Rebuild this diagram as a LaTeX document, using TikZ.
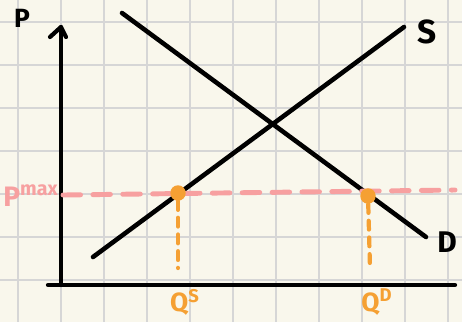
\documentclass[tikz,border=0pt]{standalone}
\usepackage{fontspec}
\setmainfont{Fira Sans}
\usetikzlibrary{calc}

\definecolor{paper}{HTML}{F9F7EC}
\definecolor{gridgrey}{HTML}{D6D6D6}
\definecolor{pmaxpink}{HTML}{F7A0A0}
\definecolor{qorange}{HTML}{F5A033}

\tikzset{
  curve/.style={line width=2.6pt, line cap=round, black},
  axis/.style={line width=2.4pt, line cap=round, black},
  lbl/.style={font=\bfseries\fontsize{15}{15}\selectfont, inner sep=0pt},
  qlbl/.style={lbl, text=qorange},
  qdot/.style={circle, fill=qorange, minimum size=8.8pt, inner sep=0pt},
  qdrop/.style={line width=2.4pt, qorange, dash pattern=on 5pt off 4.5pt, line cap=round},
}

\begin{document}
\begin{tikzpicture}[x=0.02cm, y=-0.02cm, font=\bfseries]

% --- Paper and grid ---
\fill[paper] (0,0) rectangle (462,322);
\useasboundingbox (0,0) rectangle (462,322);
\foreach \gx in {18,61,...,462}
  \draw[gridgrey, line width=1.1pt] (\gx,0) -- (\gx,322);
\foreach \gy in {22,65,...,322}
  \draw[gridgrey, line width=1.1pt] (0,\gy) -- (462,\gy);

% --- Axes ---
\coordinate (origin) at (61,285);
\coordinate (ytop) at (61,27);
\coordinate (xend) at (455,285);
\coordinate (xstart) at (48,285);
\draw[axis] (origin) -- (ytop);
\draw[axis] (xstart) -- (xend);
\draw[axis, line join=round] (50,37) -- (ytop) -- (66,37);
\node[lbl] (plabel) at (22,18) {P};

% --- Supply and demand ---
\coordinate (s0) at (93,257);
\coordinate (s1) at (404,27);
\coordinate (d0) at (122,13);
\coordinate (d1) at (426,237);
\draw[curve] (s0) -- (s1);
\draw[curve] (d0) -- (d1);
\node[lbl, font=\bfseries\fontsize{19}{19}\selectfont] (slabel) at (427,32) {S};
\node[lbl, font=\bfseries\fontsize{17}{17}\selectfont] (dlabel) at (447,242) {D};

% --- Price ceiling ---
\node[lbl, text=pmaxpink, anchor=west, font=\bfseries\fontsize{16}{16}\selectfont]
  (pmax) at (3,196) {P\textsuperscript{max}};
\coordinate (pend) at (455,190);
\draw[pmaxpink, line width=2.8pt, dash pattern=on 10pt off 7pt, line cap=round]
  (63,195) -- (pend);

% --- Quantities ---
\node[qdot] (qs) at (178,193) {};
\node[qdot] (qd) at (368,196) {};
\coordinate (qsfoot) at (178,268);
\coordinate (qdfoot) at (370,268);
\draw[qdrop] (qs) -- (qsfoot);
\draw[qdrop] (qd) -- (qdfoot);
\node[qlbl] (qslabel) at (185,302) {Q\textsuperscript{S}};
\node[qlbl] (qdlabel) at (377,302) {Q\textsuperscript{D}};

\end{tikzpicture}
\end{document}
